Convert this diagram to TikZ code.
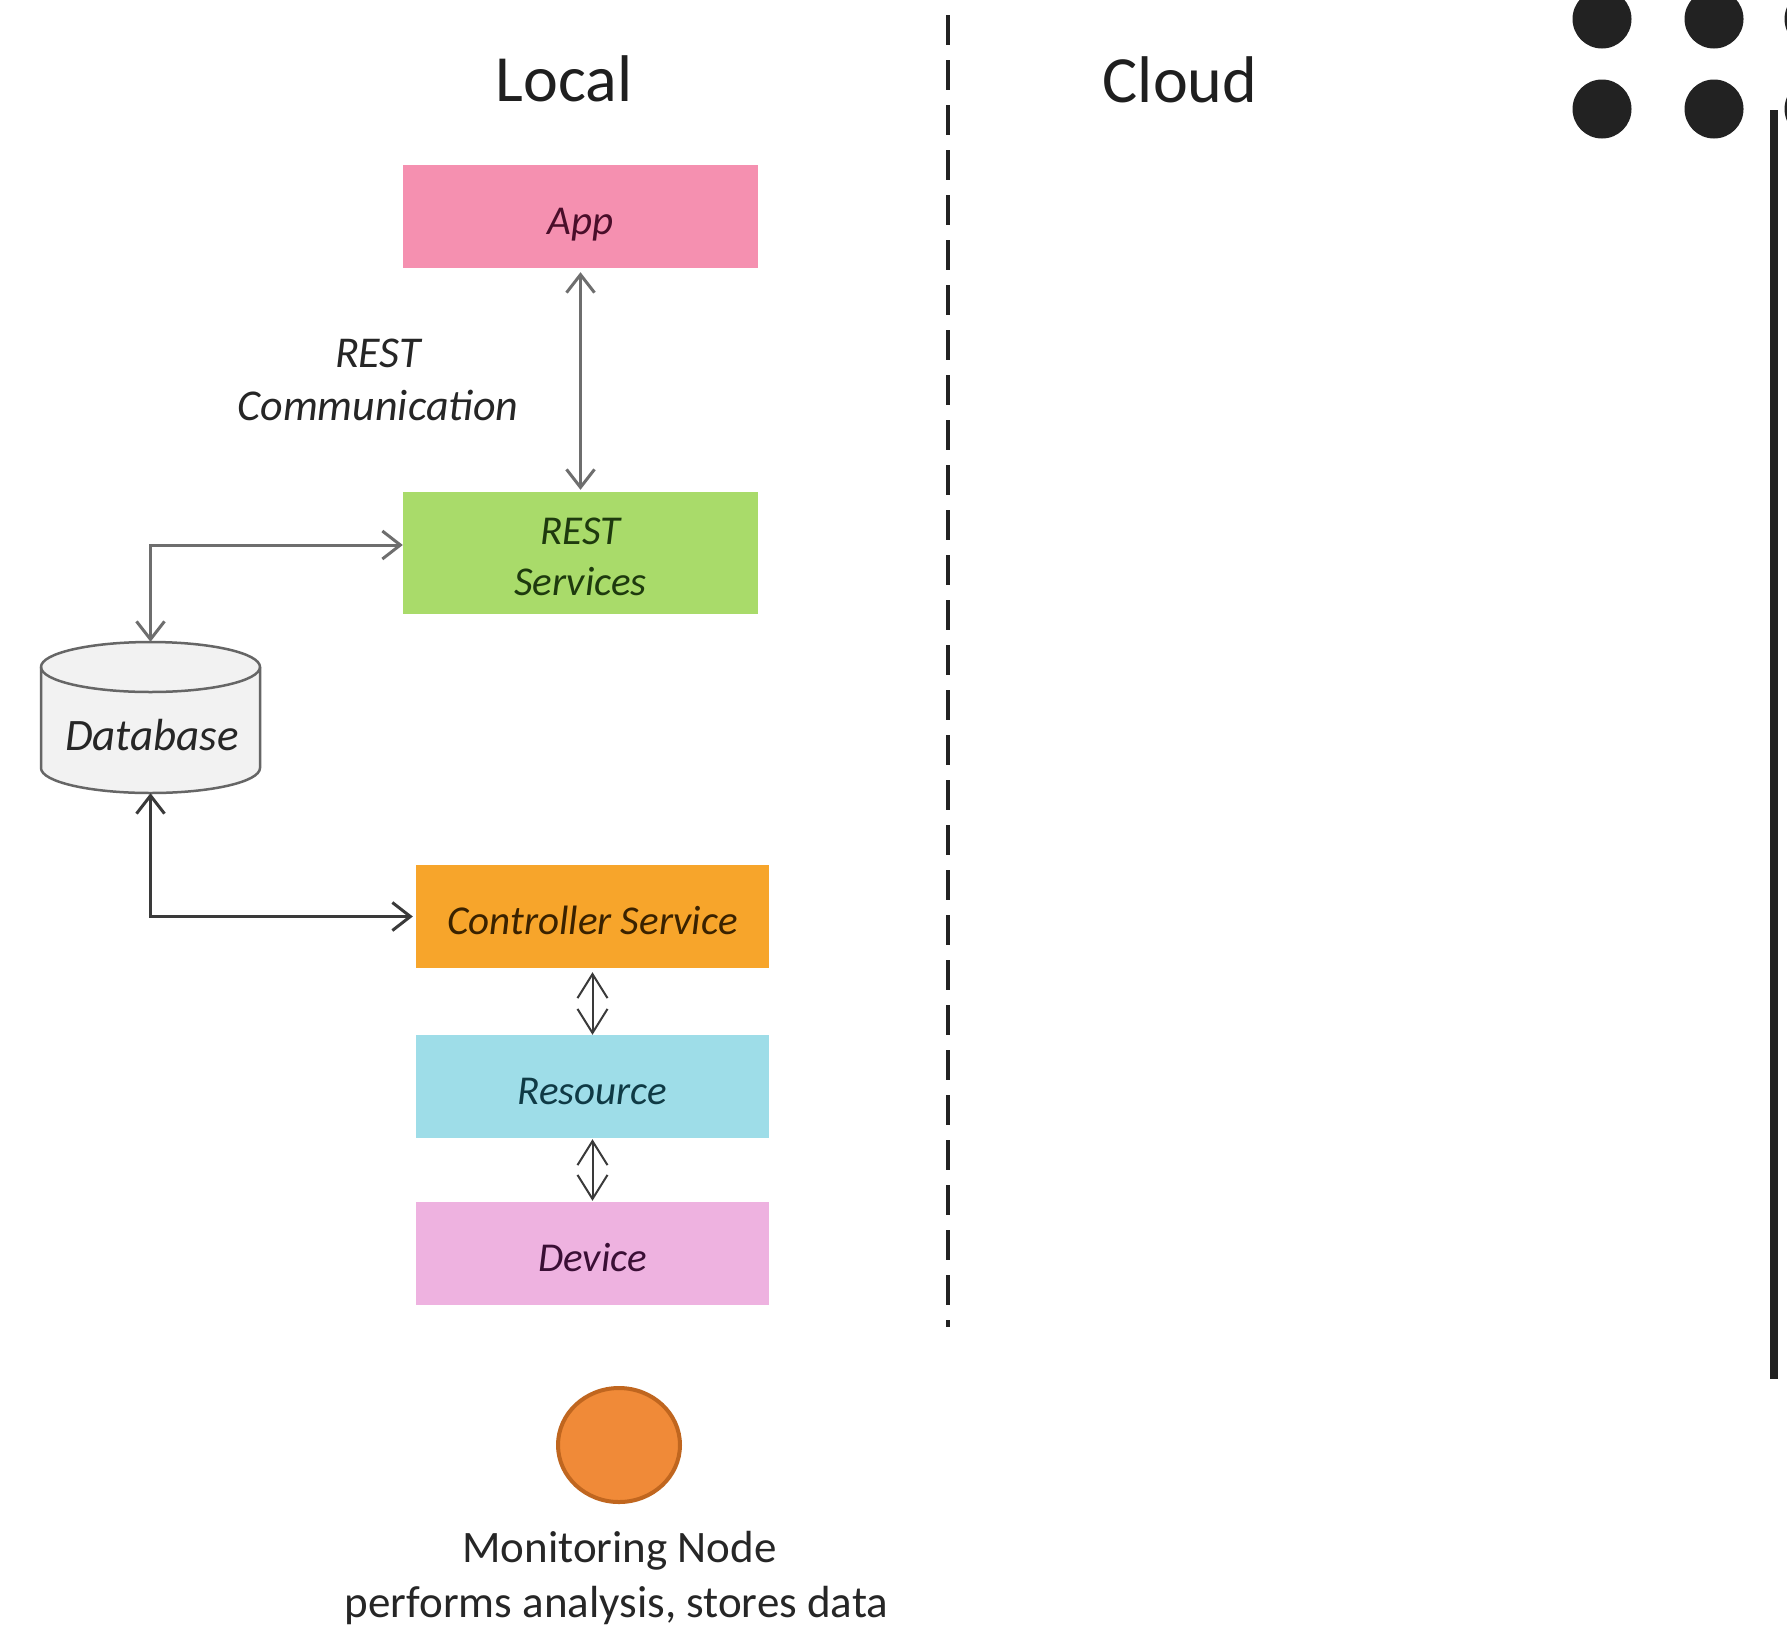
\documentclass[tikz,border=0pt]{standalone}
\usepackage{fontspec}
\setmainfont{Carlito}
\usetikzlibrary{arrows.meta,shapes.geometric}
\definecolor{appPink}{HTML}{F590B0}
\definecolor{restGreen}{HTML}{A9DB6A}
\definecolor{ctrlOrange}{HTML}{F7A52B}
\definecolor{resBlue}{HTML}{9EDDE8}
\definecolor{devPink}{HTML}{EEB2E0}
\definecolor{monOrange}{HTML}{F08A38}
\definecolor{monBorder}{HTML}{C0661F}
\definecolor{dbFill}{HTML}{F2F2F2}
\definecolor{dbLine}{HTML}{666666}
\definecolor{arrGray}{HTML}{6E6E6E}
\definecolor{arrDark}{HTML}{3A3A3A}
\definecolor{inkDark}{HTML}{222222}
\definecolor{appInk}{HTML}{4A0E2A}
\definecolor{restInk}{HTML}{1E3A0E}
\definecolor{ctrlInk}{HTML}{3A2200}
\definecolor{resInk}{HTML}{0F3A45}
\definecolor{devInk}{HTML}{3A0F35}
\begin{document}
\begin{tikzpicture}[x=1pt,y=1pt,
  box/.style={rectangle, inner sep=0pt, minimum width=355pt, minimum height=103pt,
    font=\fontsize{41}{51}\selectfont\itshape, align=center},
  onebox/.style={box, text height=37pt, text depth=2pt},
  title/.style={font=\fontsize{66}{70}\selectfont, text=black!88, anchor=base},
  conn/.style={line width=3pt, arrGray, {Straight Barb[length=18pt,width=28pt]}-{Straight Barb[length=18pt,width=28pt]}},
  conndark/.style={line width=3pt, arrDark, {Straight Barb[length=18pt,width=28pt]}-{Straight Barb[length=18pt,width=28pt]}},
  connsmall/.style={line width=2pt, arrDark, {Straight Barb[length=24pt,width=30pt]}-{Straight Barb[length=24pt,width=30pt]}},
  label/.style={font=\fontsize{44}{53}\selectfont\itshape, text=black!85, anchor=base},
  montxt/.style={font=\fontsize{45}{55}\selectfont, text=black!85, anchor=base}
]
\useasboundingbox (0,0) rectangle (1787,-1633);
\clip (0,0) rectangle (1787,-1633);
\fill[white] (0,0) rectangle (1787,-1633);

% titles
\node[title] (local) at (564,-101) {Local};
\node[title] (cloud) at (1180,-102) {Cloud};

% divider
\coordinate (divtop) at (948,-15);
\coordinate (divbot) at (948,-1327);
\draw[inkDark, line width=4pt, dash pattern=on 30pt off 15pt] (divtop) -- (divbot);

% boxes
\node[onebox, fill=appPink, text=appInk] (app) at (580.5,-216.5) {App};
\node[box, fill=restGreen, minimum height=122pt] (rest) at (580.5,-553) {};
\node[box, text=restInk, minimum width=0pt, minimum height=0pt] (resttext) at ([yshift=-4pt]rest.center) {REST\\Services};
\node[onebox, fill=ctrlOrange, text=ctrlInk, minimum width=353pt] (ctrl) at (592.5,-916.5) {Controller Service};
\node[onebox, fill=resBlue, text=resInk, minimum width=353pt] (res) at (592.5,-1086.5) {Resource};
\node[onebox, fill=devPink, text=devInk, minimum width=353pt] (dev) at (592.5,-1253.5) {Device};

% database
\node[rectangle, inner sep=0pt, minimum width=219pt, minimum height=151pt] (db) at (150.5,-717.5) {};
\filldraw[fill=dbFill, draw=dbLine, line width=2.5pt]
  (41,-667) -- (41,-768) arc[start angle=180, end angle=360, x radius=109.5, y radius=25]
  -- (260,-667) arc[start angle=0, end angle=180, x radius=109.5, y radius=25] -- cycle;
\draw[dbLine, line width=2.5pt] (41,-667) arc[start angle=180, end angle=360, x radius=109.5, y radius=25];
\node[label, text=black!85, font=\fontsize{45}{53}\selectfont\itshape] (dbtext) at (152,-750) {Database};

% REST communication label
\node[label] (restc1) at (378,-367) {REST};
\node[label] (restc2) at (378,-420) {Communication};

% connectors
\draw[conn, shorten <=4pt, shorten >=2pt] (app.south) -- (rest.north);
\draw[conn] (db.north) |- ([yshift=8pt]rest.west);
\draw[conndark] (db.south) |- ([xshift=-3pt]ctrl.west);
\draw[connsmall, shorten <=4pt] (ctrl.south) -- (res.north);
\draw[connsmall, shorten <=1pt, shorten >=1pt] (res.south) -- (dev.north);

% monitoring node
\node[ellipse, fill=monOrange, draw=monBorder, line width=4pt, minimum width=122pt, minimum height=114pt, inner sep=0pt] (mon) at (619,-1445) {};
\node[montxt] (montitle) at (619.5,-1562) {Monitoring Node};
\node[montxt] (mondesc) at (616.5,-1617) {performs analysis, stores data};

% right-edge decorations
\fill[inkDark] (1602,-19) circle (29.5) (1714,-19) circle (29.5) (1814,-19) circle (29.5)
               (1602,-109) circle (29.5) (1714,-109) circle (29.5) (1814,-109) circle (29.5);
\fill[inkDark] (1770,-110) rectangle (1778,-1379);
\end{tikzpicture}
\end{document}
